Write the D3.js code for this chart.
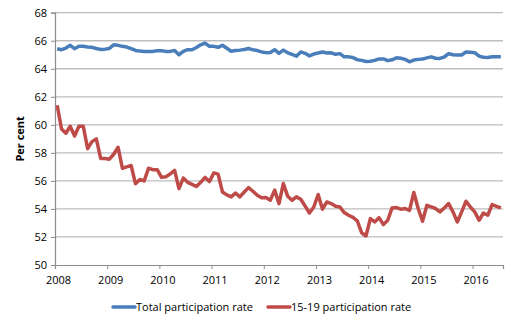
<!DOCTYPE html>
<html>
<head>
<meta charset="utf-8">
<script src="https://cdn.jsdelivr.net/npm/d3@7"></script>
<style>
  body { margin: 0; background: #fff; }
  svg text { font-family: "Open Sans", "Liberation Sans", sans-serif; fill: #000; }
</style>
</head>
<body>
<div id="chart"></div>
<script>
// Monthly labour force participation rates, Jan 2008 onwards (per cent)
const totalRate = [
  65.43, 65.36, 65.48, 65.67, 65.43, 65.6, 65.6, 65.55, 65.53, 65.45, 65.38, 65.4,
  65.45, 65.71, 65.67, 65.6, 65.55, 65.43, 65.31, 65.26, 65.24, 65.24, 65.24, 65.29,
  65.29, 65.24, 65.24, 65.31, 65.0, 65.24, 65.36, 65.36, 65.52, 65.71, 65.83, 65.6,
  65.6, 65.53, 65.68, 65.46, 65.25, 65.3, 65.33, 65.38, 65.45, 65.35, 65.3, 65.2,
  65.15, 65.16, 65.36, 65.1, 65.33, 65.14, 65.02, 64.9, 65.2, 65.1, 64.92, 65.05,
  65.12, 65.2, 65.12, 65.14, 65.03, 65.08, 64.85, 64.85, 64.8, 64.65, 64.6, 64.52,
  64.54, 64.6, 64.7, 64.7, 64.58, 64.64, 64.78, 64.75, 64.67, 64.5, 64.62, 64.67,
  64.69, 64.78, 64.85, 64.75, 64.74, 64.84, 65.08, 65.0, 64.98, 64.98, 65.2, 65.18,
  65.15, 64.9, 64.82, 64.81, 64.85, 64.86, 64.86
];
const teenRate = [
  61.4, 59.7, 59.4, 59.9, 59.2, 59.9, 59.9, 58.3, 58.8, 59.0, 57.6, 57.6,
  57.55, 57.9, 58.4, 56.9, 57.0, 57.1, 55.8, 56.1, 56.0, 56.9, 56.8, 56.8,
  56.25, 56.3, 56.5, 56.75, 55.45, 56.2, 55.9, 55.75, 55.6, 55.9, 56.25, 55.95,
  56.57, 56.48, 55.21, 55.0, 54.86, 55.14, 54.86, 55.21, 55.52, 55.26, 54.98, 54.79,
  54.81, 54.62, 55.34, 54.38, 55.81, 54.9, 54.62, 54.86, 54.69, 54.21, 53.71, 54.14,
  55.03, 53.98, 54.5, 54.38, 54.19, 54.14, 53.74, 53.55, 53.4, 53.15, 52.3, 52.07,
  53.31, 53.07, 53.38, 52.88, 53.19, 54.07, 54.1, 53.98, 54.03, 53.9, 55.17, 54.03,
  53.12, 54.26, 54.14, 54.03, 53.79, 54.07, 54.38, 53.79, 53.07, 53.79, 54.55, 54.14,
  53.79, 53.19, 53.71, 53.55, 54.31, 54.19, 54.07
];
const years = [2008, 2009, 2010, 2011, 2012, 2013, 2014, 2015, 2016];
const yTicks = [50, 52, 54, 56, 58, 60, 62, 64, 66, 68];
const seriesNames = ["Total participation rate", "15-19 participation rate"];
const seriesColors = ["#4a7ebb", "#be4b48"];

const width = 517, height = 325;
const margin = { top: 12.7, right: 14, bottom: 60, left: 55 };

const svg = d3.select("#chart").append("svg")
  .attr("width", width)
  .attr("height", height);

// month index on x, Excel-style with each month occupying one slot
const x = d3.scaleLinear()
  .domain([-0.5, teenRate.length - 0.5])
  .range([margin.left, width - margin.right]);
const y = d3.scaleLinear()
  .domain([50, 68])
  .range([height - margin.bottom, margin.top]);

// horizontal gridlines
svg.append("g")
  .selectAll("line")
  .data(yTicks.slice(1))
  .join("line")
  .attr("x1", x.range()[0])
  .attr("x2", x.range()[1])
  .attr("y1", d => y(d))
  .attr("y2", d => y(d))
  .attr("stroke", "#bdbdbd")
  .attr("stroke-width", 1.3);

// y axis
const yAxis = svg.append("g")
  .attr("transform", `translate(${margin.left},0)`)
  .call(d3.axisLeft(y).tickValues(yTicks).tickSize(4).tickPadding(4).tickFormat(d3.format("d")));
yAxis.select(".domain").attr("stroke", "#8c8c8c").attr("stroke-width", 1.2);
yAxis.selectAll(".tick line").attr("stroke", "#8c8c8c");
yAxis.selectAll("text").style("font-size", "11px");

// x axis: ticks sit between Decembers and Januaries
const xAxis = svg.append("g")
  .attr("transform", `translate(0,${y(50)})`)
  .call(d3.axisBottom(x)
    .tickValues(years.map((d, i) => i * 12 - 0.5))
    .tickSize(4)
    .tickPadding(7)
    .tickFormat((d, i) => years[i]));
xAxis.select(".domain").attr("stroke", "#8c8c8c").attr("stroke-width", 1.2);
xAxis.selectAll(".tick line").attr("stroke", "#8c8c8c");
xAxis.selectAll("text").style("font-size", "11px").attr("dx", 3);

// y axis title
svg.append("text")
  .attr("transform", `translate(24,${(y(50) + y(68)) / 2}) rotate(-90)`)
  .attr("text-anchor", "middle")
  .style("font-size", "11px")
  .style("font-weight", "bold")
  .text("Per cent");

// series lines
const line = d3.line()
  .x((d, i) => x(i))
  .y(d => y(d));

[totalRate, teenRate].forEach((values, k) => {
  svg.append("path")
    .datum(values)
    .attr("fill", "none")
    .attr("stroke", seriesColors[k])
    .attr("stroke-width", 3.5)
    .attr("stroke-linejoin", "round")
    .attr("d", line);
});

// legend
const legend = svg.append("g").attr("transform", "translate(0,307)");
const legendX = [113, 268];
seriesNames.forEach((name, k) => {
  const g = legend.append("g").attr("transform", `translate(${legendX[k]},0)`);
  g.append("line")
    .attr("x1", 0).attr("x2", 22)
    .attr("stroke", seriesColors[k])
    .attr("stroke-width", 3.5)
    .attr("stroke-linecap", "round");
  g.append("text")
    .attr("x", 23)
    .attr("dy", "0.35em")
    .style("font-size", "11px")
    .text(name);
});
</script>
</body>
</html>
